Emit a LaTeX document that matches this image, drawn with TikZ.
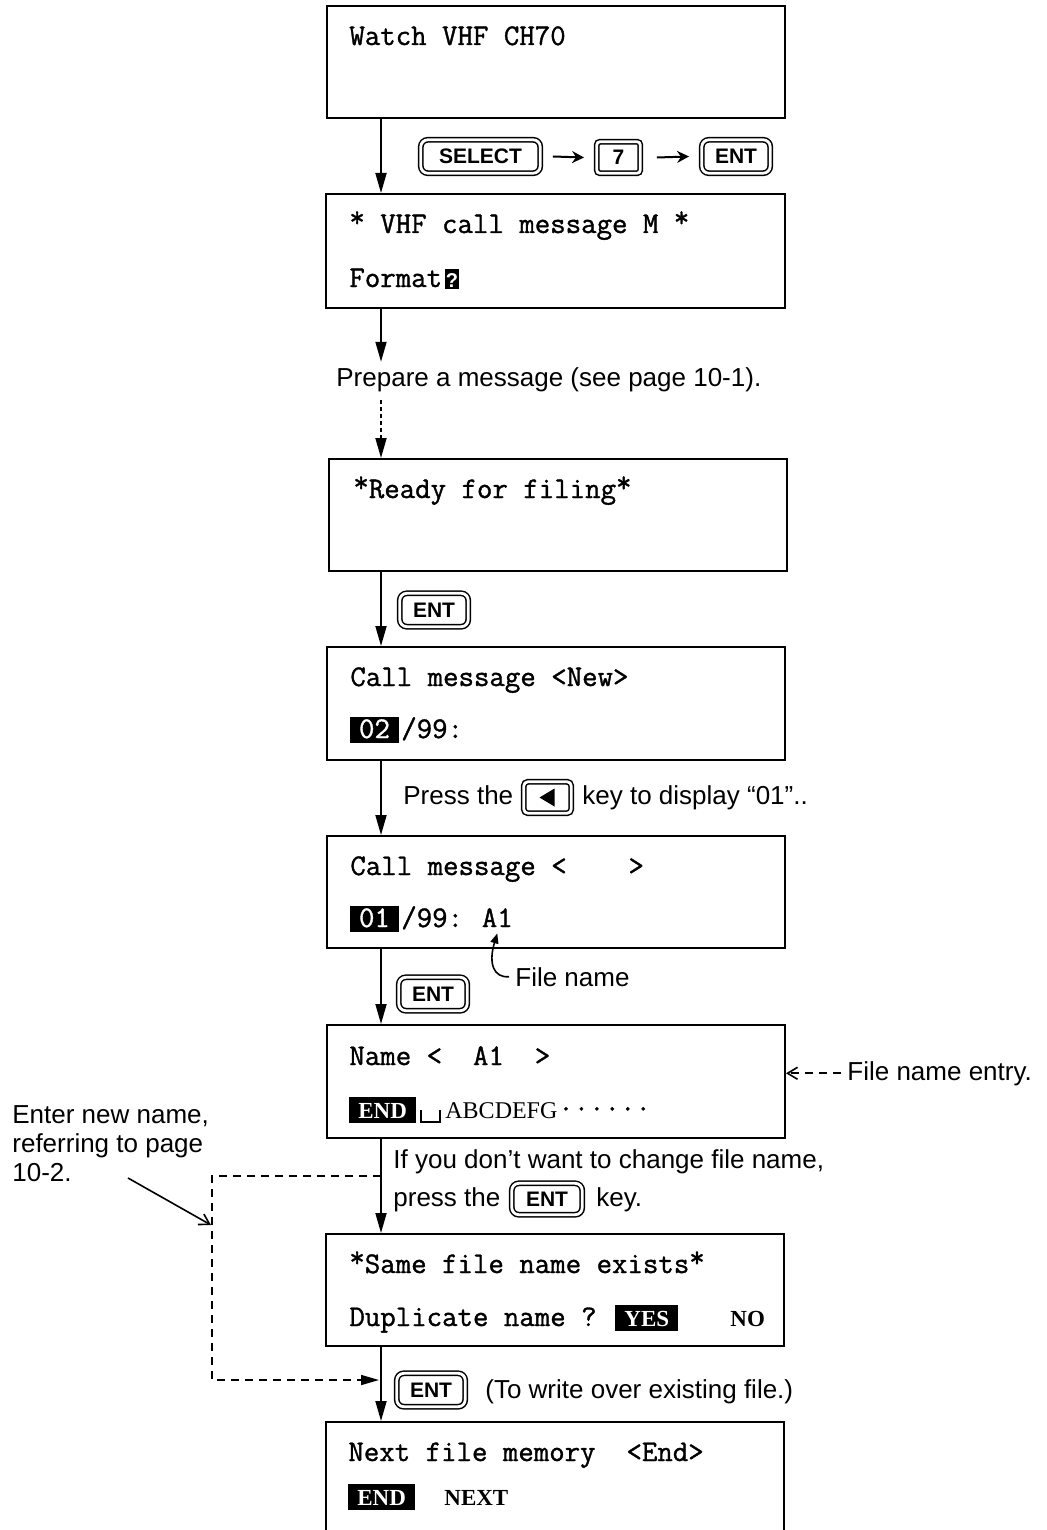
\documentclass[tikz,border=0pt]{standalone}
\usepackage{fontspec}
\setmainfont{Liberation Serif}
\setsansfont{Liberation Sans}
\setmonofont{Latin Modern Mono}[FakeBold=1.2]
\usetikzlibrary{arrows.meta,fit,positioning}
\def\hstar{\raisebox{3pt}{*}}

\tikzset{
	lcd/.style={draw, line width=1pt, inner sep=0pt},
	lcdtxt/.style={font=\fontsize{15}{17}\selectfont\ttfamily, inner sep=0pt, anchor=base west},
	hl/.style={fill=black, text=white, inner xsep=4.5pt, inner ysep=0pt, text height=10.5pt, text depth=2.5pt, anchor=base west},
	hlserif/.style={hl, font=\fontsize{11.5}{13}\selectfont\rmfamily\bfseries},
	hlmono/.style={hl, inner xsep=4.3pt, font=\fontsize{15}{17}\selectfont\ttfamily},
	serifbold/.style={font=\fontsize{11.5}{13}\selectfont\rmfamily\bfseries, inner sep=0pt, anchor=base west},
	cursor/.style={fill=black, text=white, inner xsep=0.5pt, inner ysep=0pt, text height=9pt, text depth=1pt, minimum width=7pt, anchor=base west, font=\fontsize{10}{12}\selectfont\sffamily\bfseries},
	note/.style={font=\fontsize{13}{15}\selectfont\sffamily, inner sep=0pt, anchor=base west},
	keycap/.style={draw, double, double distance=1.4pt, line width=0.75pt, rounded corners=3.5pt, inner sep=0pt, font=\fontsize{10.5}{12}\selectfont\sffamily\bfseries},
	flow/.style={line width=0.9pt, -{Triangle[length=10pt,width=5.5pt]}},
	flowdot/.style={flow, dash pattern=on 2pt off 1.5pt},
	loopdash/.style={line width=0.8pt, dash pattern=on 4pt off 3pt, -{Triangle[length=9pt,width=5pt]}},
	pointer/.style={line width=0.8pt, -{Straight Barb[length=5pt,width=6pt]}},
	keyarrow/.style={line width=1pt, -{Stealth[length=6pt,width=6pt,inset=2pt]}},
}

\begin{document}
\begin{tikzpicture}[x=0.5pt, y=-0.5pt]
		%%%%% START %%%%%
		
		\useasboundingbox (0,0) rectangle (1047,1530);
		\coordinate (spine) at (381,0);
		
		% screens
		\node[lcd, fit={(327,6) (785,118)}] (b1) {};
		\node[lcd, fit={(326,194) (785,308)}] (b2) {};
		\node[lcd, fit={(329,459) (787,571)}] (b3) {};
		\node[lcd, fit={(327,647) (785,760)}] (b4) {};
		\node[lcd, fit={(327,836) (785,948)}] (b5) {};
		\node[lcd, fit={(327,1025) (785,1138)}] (b6) {};
		\node[lcd, fit={(326,1234) (784,1346)}] (b7) {};
		\node[lcd, fit={(326,1422) (784,1545)}] (b8) {};
		
		% screen texts
		\node[lcdtxt] (t1) at (349,45) {Watch VHF CH70};
		
		\node[lcdtxt] (t2a) at (349,233) {\hstar{} VHF call message M \hstar};
		\node[lcdtxt] (t2b) at (349,287) {Format};
		\node[cursor] (qm) at ([xshift=1pt]t2b.base east) {?};
		
		\node[lcdtxt] (t3) at (353,498) {\hstar Ready for filing\hstar};
		
		\node[lcdtxt] (t4a) at (350,686) {Call message <New>};
		\node[hlmono] (h02) at (350,738) {02};
		\node[lcdtxt] (t4b) at ([xshift=1pt]h02.base east) {/99:};
		
		\node[lcdtxt] (t5a) at (350,875) {Call message <~~~~>};
		\node[hlmono] (h01) at (350,927) {01};
		\node[lcdtxt] (t5b) at ([xshift=1pt]h01.base east) {/99:};
		\node[lcdtxt] (a1) at ([xshift=9pt]t5b.base east) {A1};
		
		\node[lcdtxt] (t6a) at (349,1065) {Name~<~~A1~~>};
		\node[hlserif] (hend) at (349,1118) {END};
		\draw[line width=0.6pt] (421,1110) |- (440,1122) -- (440,1110);
		\node[font=\fontsize{12}{14}\selectfont\rmfamily, inner sep=0pt, anchor=base west] (abc) at (445,1118) {ABCDEFG};
		\node[lcdtxt] (dots) at (abc.base east) {······};
		
		\node[lcdtxt] (t7a) at (349,1273) {\hstar Same file name exists\hstar};
		\node[lcdtxt] (t7b) at (349,1326) {Duplicate name ?};
		\node[hlserif] (hyes) at (615,1326) {YES};
		\node[serifbold] (no) at (730,1326) {NO};
		
		\node[lcdtxt] (t8a) at (348,1461) {Next file memory~~<End>};
		\node[hlserif] (hend2) at (348,1505) {END};
		\node[serifbold] (next) at (444,1505) {NEXT};
		
		% keys
		\node[keycap, minimum width=59.7pt, minimum height=16.7pt] (kSel) at (480.5,156.5) {SELECT};
		\node[keycap, rounded corners=1.5pt, minimum width=21.7pt, minimum height=15.7pt] (k7) at (618.5,157.5) {7};
		\node[keycap, minimum width=34.2pt, minimum height=16.7pt] (kEnt1) at (736,156.5) {ENT};
		\draw[keyarrow] ([xshift=6pt]kSel.east) -- ([xshift=-6pt]k7.west);
		\draw[keyarrow] ([xshift=8pt]k7.east) -- ([xshift=-6pt]kEnt1.west);
		
		\node[keycap, minimum width=34.2pt, minimum height=16.7pt] (kEnt2) at (434,610) {ENT};
		\node[keycap, minimum width=34.2pt, minimum height=16.7pt] (kEnt3) at (433,994) {ENT};
		\node[keycap, minimum width=34.2pt, minimum height=16.7pt] (kEnt5) at (431,1390) {ENT};
		
		% notes
		\node[note] (prep) at (336,386) {Prepare a message (see page 10-1).};
		
		\node[note] (press) at (403,804) {Press the};
		\node[keycap, rounded corners=2pt, minimum width=23.7pt, minimum height=15.7pt] (kLeft) at (547.5,797.5) {};
		\fill (kLeft.center) ++(-8,0) -- ++(15,-9) -- ++(0,18) -- cycle;
		\node[note] (disp) at (582,804) {key to display “01”..};
		
		\node[note] (filen) at (515,986) {File name};
		\draw[line width=0.8pt, -{Triangle[length=5pt,width=4pt]}] ([xshift=-3pt]filen.west) .. controls (494,978) and (488,964) .. ([yshift=-3pt]a1.south);
		
		\node[note] (fne) at (847,1080) {File name entry.};
		\draw[pointer, dash pattern=on 4pt off 3pt] ([xshift=-3pt]fne.west) -- (fne.west -| b6.east);
		
		\node[note] (ifyou) at (393,1168) {If you don’t want to change file name,};
		\node[note] (press2) at (393,1206) {press the};
		\node[keycap, minimum width=35.2pt, minimum height=15.7pt] (kEnt4) at (547,1199) {ENT};
		\node[note] (keydot) at (596,1206) {key.};
		
		\node[note] (over) at (485,1398) {(To write over existing file.)};
		
		\node[note, anchor=north west, align=left, font=\fontsize{13}{14.5}\selectfont\sffamily] (enter) at (12,1105) {Enter new name,\\referring to page\\10-2.};
		
		% flow
		\draw[flow] (b1.south -| spine) -- (b2.north -| spine);
		\draw[flow] (b2.south -| spine) -- ([yshift=2.5pt]prep.north -| spine);
		\draw[flowdot] ([yshift=-4pt]prep.south -| spine) -- (b3.north -| spine);
		\draw[flow] (b3.south -| spine) -- (b4.north -| spine);
		\draw[flow] (b4.south -| spine) -- (b5.north -| spine);
		\draw[flow] (b5.south -| spine) -- (b6.north -| spine);
		\draw[flow] (b6.south -| spine) -- (b7.north -| spine);
		\draw[flow] (b7.south -| spine) -- (b8.north -| spine);
		
		% rename loop
		\coordinate (jtop) at (381,1176);
		\coordinate (jbot) at (381,1380);
		\coordinate (loopc) at (212,1280);
		\draw[loopdash, shorten >=1pt] (jtop) -| (loopc) |- (jbot);
		\coordinate (aimA) at (128,1178);
		\coordinate (aimB) at (211,1225);
		\draw[pointer] (aimA) -- (aimB);
		
		%%%%% END %%%%%
\end{tikzpicture}
\end{document}
